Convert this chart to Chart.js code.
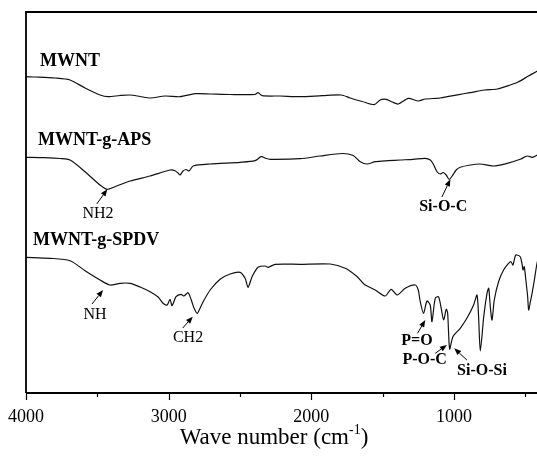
<!DOCTYPE html>
<html>
<head>
<meta charset="utf-8">
<script src="https://cdn.jsdelivr.net/npm/chart.js@4"></script>
<style>
html,body{margin:0;padding:0;overflow:hidden;background:#fff;}
canvas{display:block;}
</style>
</head>
<body>
<canvas id="c" width="545" height="456"></canvas>
<script>
// ---- data (wavenumber cm-1, offset transmittance a.u.) ----
const mwntX = [4000,3930,3797,3691,3586,3481,3425,3341,3270,3200,3130,3025,2920,2814,2709,2569,2394,2373,2344,2218,2078,1924,1790,1727,1643,1559,1517,1475,1432,1390,1320,1250,1201,1096,956,885,787,696,605,549,478,415,400];
const mwntY = [316.3,316,315,313,305,298,296.3,297.5,298,296.5,295,297,296.3,299.3,299,298.5,298.5,300.3,297.3,297,296.3,297.3,298,295,291.5,288.3,293,293.7,291,289,294.7,292,294,295,298.7,300.3,303,304,308,311,317,322,324];

const apsX = [4000,3874,3761,3691,3586,3481,3432,3376,3270,3130,2990,2955,2934,2920,2899,2878,2857,2828,2709,2499,2394,2351,2316,2288,2078,1938,1783,1706,1657,1608,1552,1461,1376,1285,1201,1166,1145,1117,1096,1075,1054,1033,1012,984,956,885,815,724,626,535,486,450,415,400];
const apsY = [235.7,235.3,234.5,233,221.3,208,203.7,206.3,212,217,223,222.3,220,218,222,223.5,222,227,229,230.7,232.3,236.3,234.5,233.7,234.3,237,239.5,237.5,231.3,229,231.3,232.3,233,233.7,234.7,233,229,221,219,220.5,218,213.5,217,223,225.7,228,229,227,229.7,233.7,237,235.7,238,239];

const spdvX = [4000,3832,3691,3586,3481,3411,3341,3270,3200,3130,3074,3039,3011,2990,2976,2948,2913,2892,2864,2843,2822,2800,2779,2758,2709,2639,2569,2499,2464,2443,2415,2373,2323,2302,2253,2078,1867,1762,1678,1629,1552,1482,1440,1397,1341,1271,1250,1236,1213,1189,1166,1154,1131,1108,1089,1072,1054,1044,1030,1007,956,909,862,838,827,815,791,768,756,745,733,717,687,652,617,600,586,570,558,535,523,516,507,497,483,476,464,452,436,417,400];
const spdvY = [135.7,134.7,132.3,122.3,113,108,109.7,109.7,106,101.3,96,89.7,88,93.7,87.3,96.3,98.7,97,100.3,93.7,85,79.7,85,91.3,103,113.7,119,120.7,114.7,105.7,116.3,125.7,127,125.7,128.7,128.7,129,124.7,116.3,108.7,103,97,103.7,98,104.7,108,103,91.3,79.7,92,88,71.3,94.7,96.3,84.7,73,83.7,80,44,56.3,64.7,74.7,88,98,76.3,42,76.3,99.7,104.7,86.3,73,93,111.3,123,129.7,131.3,128,137,138,136.3,129.7,123,126.3,114.7,96.3,83,91.3,99.7,113,130,138];

const seriesNames = ["MWNT","MWNT-g-APS","MWNT-g-SPDV"];
const tickValues = [4000,3500,3000,2500,2000,1500,1000,500];
const tickLabels = ["4000","","3000","","2000","","1000",""];

// annotations: label, text anchor (wavenumber, value), arrow tail, arrow head
const notes = [
  {t:"NH2",   bold:false, at:[3495,179],  from:[3504,189], to:[3430,203.7]},
  {t:"NH",    bold:false, at:[3516,78.5], from:[3537,89],  to:[3460,103]},
  {t:"CH2",   bold:false, at:[2864,55.5], from:[2901,65],  to:[2831,76.3]},
  {t:"Si-O-C",bold:true,  at:[1075,186],  from:[1084,196], to:[1025,213.7]},
  {t:"P=O",   bold:true,  at:[1259,52],   from:[1255,59.7],to:[1201,73]},
  {t:"P-O-C", bold:true,  at:[1205,33.5], from:[1131,39.7],to:[1049,48]},
  {t:"Si-O-Si",bold:true, at:[803,22],    from:[909,33],   to:[998,44.7]}
];
const nameAnchors = [[3902,332],[3916,253],[3951,153]];

const SERIF = '"Liberation Serif","Times New Roman",serif';

function pts(xs, ys){ return xs.map((x,i)=>({x:x, y:ys[i]})); }

const decor = {
  id:'decor',
  afterDraw(chart){
    const ctx = chart.ctx, xs = chart.scales.x, ys = chart.scales.y, a = chart.chartArea;
    ctx.save();
    // frame
    ctx.strokeStyle = '#000'; ctx.lineWidth = 1.8;
    ctx.beginPath();
    ctx.moveTo(a.left, a.bottom); ctx.lineTo(a.left, a.top); ctx.lineTo(a.right+10, a.top);
    ctx.moveTo(a.left, a.bottom); ctx.lineTo(a.right+10, a.bottom);
    ctx.stroke();
    // tick marks
    ctx.lineWidth = 1.2;
    tickValues.forEach((v,i)=>{
      const px = Math.round(xs.getPixelForValue(v))+0.5;
      const len = tickLabels[i] ? 7 : 4;
      ctx.beginPath(); ctx.moveTo(px, a.bottom); ctx.lineTo(px, a.bottom+len); ctx.stroke();
    });
    // axis title with superscript
    ctx.fillStyle = '#000';
    ctx.textBaseline = 'alphabetic';
    ctx.textAlign = 'left';
    const f1 = '23px '+SERIF, f2 = '14px '+SERIF;
    ctx.font = f1; const w1 = ctx.measureText('Wave number (cm').width;
    ctx.font = f2; const w2 = ctx.measureText('-1').width;
    ctx.font = f1; const w3 = ctx.measureText(')').width;
    const tw = w1+w2+w3;
    let tx = 274 - tw/2, ty = 444;
    ctx.font = f1; ctx.fillText('Wave number (cm', tx, ty);
    ctx.font = f2; ctx.fillText('-1', tx+w1, ty-10);
    ctx.font = f1; ctx.fillText(')', tx+w1+w2, ty);
    // series names
    ctx.font = 'bold 18px '+SERIF;
    ctx.textBaseline = 'middle';
    seriesNames.forEach((n,i)=>{
      ctx.fillText(n, xs.getPixelForValue(nameAnchors[i][0]), ys.getPixelForValue(nameAnchors[i][1]));
    });
    // annotations
    notes.forEach(n=>{
      ctx.font = (n.bold?'bold 16px ':'16px ')+SERIF;
      ctx.textAlign = 'center'; ctx.textBaseline = 'middle';
      ctx.fillText(n.t, xs.getPixelForValue(n.at[0]), ys.getPixelForValue(n.at[1]));
      const x1 = xs.getPixelForValue(n.from[0]), y1 = ys.getPixelForValue(n.from[1]);
      const x2 = xs.getPixelForValue(n.to[0]),   y2 = ys.getPixelForValue(n.to[1]);
      const ang = Math.atan2(y2-y1, x2-x1), hl = 7, hw = 2.8;
      const bx = x2 - hl*Math.cos(ang), by = y2 - hl*Math.sin(ang);
      ctx.lineWidth = 1;
      ctx.beginPath(); ctx.moveTo(x1,y1); ctx.lineTo(bx,by); ctx.stroke();
      ctx.beginPath();
      ctx.moveTo(x2,y2);
      ctx.lineTo(bx + hw*Math.sin(ang), by - hw*Math.cos(ang));
      ctx.lineTo(bx - hw*Math.sin(ang), by + hw*Math.cos(ang));
      ctx.closePath(); ctx.fill();
    });
    ctx.restore();
  }
};

const ds = (label, xs, ys) => ({
  label, data: pts(xs, ys), borderColor:'#111', borderWidth:1.2,
  pointRadius:0, tension:0.25, fill:false
});

new Chart(document.getElementById('c'), {
  type:'line',
  data:{ datasets:[ ds(seriesNames[0], mwntX, mwntY), ds(seriesNames[1], apsX, apsY), ds(seriesNames[2], spdvX, spdvY) ] },
  options:{
    responsive:false, animation:false, devicePixelRatio:1,
    layout:{ padding:{ left:26, top:12, right:5.5, bottom:0 } },
    plugins:{ legend:{display:false}, tooltip:{enabled:false} },
    scales:{
      x:{
        type:'linear', reverse:true, min:400, max:4000,
        afterBuildTicks(s){ s.ticks = tickValues.map(v=>({value:v})); },
        afterFit(s){ s.height = 63; s.paddingLeft = 0; s.paddingRight = 0; },
        grid:{ display:false }, border:{ display:false },
        ticks:{ autoSkip:false, maxRotation:0, padding:5, color:'#000',
          font:{ family:SERIF, size:18 },
          callback(v, i){ return tickLabels[i]; } }
      },
      y:{ type:'linear', min:0, max:381, display:false }
    }
  },
  plugins:[decor]
});
</script>
</body>
</html>
